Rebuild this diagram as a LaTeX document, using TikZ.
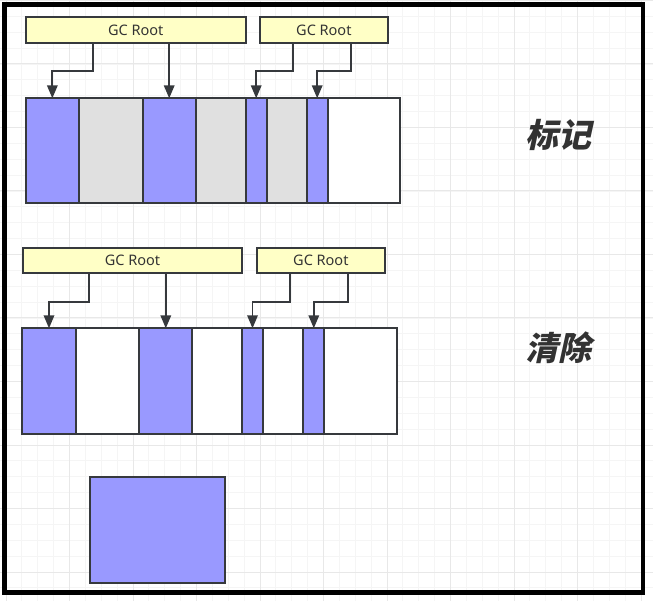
\documentclass[tikz,border=0pt]{standalone}
\usepackage{fontspec}
\setmainfont{Noto Sans}
\newfontfamily\cjk[FakeSlant=0.22]{Noto Sans CJK SC}
\usetikzlibrary{arrows.meta,calc}
\definecolor{blk}{HTML}{9999FF}
\definecolor{grayc}{HTML}{E0E0E0}
\definecolor{yel}{HTML}{FFFFC6}
\definecolor{edge}{HTML}{36393D}
\definecolor{txt}{HTML}{333333}
\definecolor{gmin}{HTML}{F5F5F5}
\definecolor{gmaj}{HTML}{E8E8E8}
\tikzset{
  cell/.style={draw=edge,line width=1.8pt,rectangle,inner sep=0pt,outer sep=0pt,anchor=north west},
  root/.style={cell,fill=yel,text=txt,font=\fontsize{14.5}{15}\selectfont},
  arr/.style={draw=edge,line width=1.8pt,-{Triangle[length=13pt,width=10.5pt]}},
  lbl/.style={text=txt,font=\cjk\bfseries\fontsize{33}{35}\selectfont}
}
\begin{document}
\begin{tikzpicture}[x=1pt,y=-1pt]
\useasboundingbox (0,0) rectangle (653,601);
\fill[white] (0,0) rectangle (653,601);
% grid
\foreach \i in {-1,...,42} {
  \draw[gmin,line width=0.8pt] ({6+15.875*\i},0) -- ({6+15.875*\i},601);
  \draw[gmin,line width=0.8pt] (0,{0.5+15.875*\i}) -- (653,{0.5+15.875*\i});
}
\foreach \i in {0,...,10} {
  \draw[gmaj,line width=1pt] ({6+63.5*\i},0) -- ({6+63.5*\i},601);
  \draw[gmaj,line width=1pt] (0,{0.5+63.5*\i}) -- (653,{0.5+63.5*\i});
}
% frame
\draw[black,line width=4.5pt] (4.5,4.3) rectangle (643,592.5);

% ===== top: mark =====
\node[root,minimum width=220pt,minimum height=26pt] (g1) at (25.7,17.3) {GC Root};
\node[root,minimum width=127.7pt,minimum height=26pt] (g2) at (260,17.3) {GC Root};
\node[cell,fill=blk,minimum width=52.7pt,minimum height=105pt] (c1) at (26,98.3) {};
\node[cell,fill=grayc,minimum width=64pt,minimum height=105pt] (c2) at (78.7,98.3) {};
\node[cell,fill=blk,minimum width=53pt,minimum height=105pt] (c3) at (142.7,98.3) {};
\node[cell,fill=grayc,minimum width=50pt,minimum height=105pt] (c4) at (195.7,98.3) {};
\node[cell,fill=blk,minimum width=21pt,minimum height=105pt] (c5) at (245.7,98.3) {};
\node[cell,fill=grayc,minimum width=40pt,minimum height=105pt] (c6) at (266.7,98.3) {};
\node[cell,fill=blk,minimum width=21pt,minimum height=105pt] (c7) at (306.7,98.3) {};
\node[cell,fill=white,minimum width=72.3pt,minimum height=105pt] (c8) at (327.7,98.3) {};
\draw[arr] (g1.south -| 92.7,0) -- (92.7,70.7) -| (c1.north);
\draw[arr] (g1.south -| c3.north) -- (c3.north);
\draw[arr] (g2.south -| 293.3,0) -- (293.3,70.7) -| (c5.north);
\draw[arr] (g2.south -| 351,0) -- (351,70.7) -| (c7.north);
\node[lbl] (mark) at (558,135) {标记};

% ===== bottom: sweep =====
\node[root,minimum width=219.6pt,minimum height=25pt] (h1) at (22.7,248.3) {GC Root};
\node[root,minimum width=128.3pt,minimum height=25pt] (h2) at (256.7,248.3) {GC Root};
\node[cell,fill=blk,minimum width=53.4pt,minimum height=105.7pt] (d1) at (22.3,328.3) {};
\node[cell,fill=white,minimum width=63.6pt,minimum height=105.7pt] (d2) at (75.7,328.3) {};
\node[cell,fill=blk,minimum width=53pt,minimum height=105.7pt] (d3) at (139.3,328.3) {};
\node[cell,fill=white,minimum width=49.4pt,minimum height=105.7pt] (d4) at (192.3,328.3) {};
\node[cell,fill=blk,minimum width=21.6pt,minimum height=105.7pt] (d5) at (241.7,328.3) {};
\node[cell,fill=white,minimum width=40pt,minimum height=105.7pt] (d6) at (263.3,328.3) {};
\node[cell,fill=blk,minimum width=21pt,minimum height=105.7pt] (d7) at (303.3,328.3) {};
\node[cell,fill=white,minimum width=72.4pt,minimum height=105.7pt] (d8) at (324.3,328.3) {};
\draw[arr] (h1.south -| 89.3,0) -- (89.3,301.7) -| (d1.north);
\draw[arr] (h1.south -| d3.north) -- (d3.north);
\draw[arr] (h2.south -| 290,0) -- (290,301.7) -| (d5.north);
\draw[arr] (h2.south -| 347.7,0) -- (347.7,301.7) -| (d7.north);
\node[lbl] (sweep) at (558,348) {清除};

% ===== result block =====
\node[cell,fill=blk,minimum width=135pt,minimum height=106pt] (blkres) at (90.3,476.7) {};
\end{tikzpicture}
\end{document}
